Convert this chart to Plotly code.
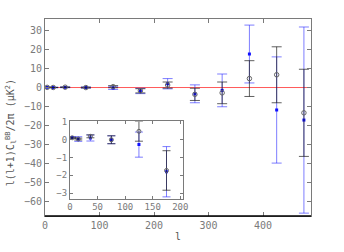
import plotly.graph_objects as go

# multipole bin centres
ells = [4, 15, 37, 75, 125, 175, 225, 275, 325, 375, 425, 475]

# black series (values and 1-sigma errors)
black_vals = [0.09, 0.02, 0.17, -0.02, 0.45, -1.73, 1.3, -3.6, -2.8, 4.7, 6.7, -13.3]
black_errs = [0.03, 0.05, 0.08, 0.22, 0.55, 1.1, 1.6, 3.2, 5.7, 9.4, 14.7, 22.9]

# blue series
blue_vals = [0.1, 0.02, 0.08, -0.02, -0.29, -1.8, 2.0, -3.3, -1.5, 17.6, -11.8, -17.1]
blue_errs = [0.03, 0.13, 0.17, 0.22, 0.7, 1.4, 2.7, 4.7, 8.6, 15.2, 27.9, 48.9]

main_xticks = [0, 100, 200, 300, 400]
main_yticks = [-60, -50, -40, -30, -20, -10, 0, 10, 20, 30]
inset_xticks = [0, 50, 100, 150, 200]
inset_yticks = [-3, -2, -1, 0, 1]
n_inset = 6

BLUE_ERR = "rgba(40,40,255,0.6)"
BLACK_ERR = "rgba(30,30,30,0.7)"
FONT = "DejaVu Sans Mono"
TICKC = "#7a7a7a"

fig = go.Figure()

def add_series(xa, ya, xs, bv, be, kv, ke, cap, msize):
    fig.add_trace(go.Scatter(
        x=xs, y=bv, mode="markers", xaxis=xa, yaxis=ya,
        marker=dict(symbol="square", size=3, color="#1010ff"),
        error_y=dict(type="data", array=be, visible=True, color=BLUE_ERR,
                     thickness=1, width=cap),
        showlegend=False))
    fig.add_trace(go.Scatter(
        x=xs, y=kv, mode="markers", xaxis=xa, yaxis=ya,
        marker=dict(symbol="circle-open", size=msize, color="#666666",
                    line=dict(width=1, color="#666666")),
        error_y=dict(type="data", array=ke, visible=True, color=BLACK_ERR,
                     thickness=1, width=cap),
        showlegend=False))

add_series("x", "y", ells, blue_vals, blue_errs, black_vals, black_errs, 5, 4.5)
add_series("x2", "y2", ells[:n_inset], blue_vals[:n_inset], blue_errs[:n_inset],
           black_vals[:n_inset], black_errs[:n_inset], 4, 4)

axis_common = dict(showgrid=False, zeroline=False, showline=True, linecolor=TICKC,
                   linewidth=1, mirror="ticks", ticks="inside", tickcolor=TICKC,
                   tickfont=dict(family=FONT, size=10, color=TICKC))

fig.update_layout(
    width=344, height=252,
    margin=dict(l=45, r=33, t=19, b=29),
    paper_bgcolor="white", plot_bgcolor="white",
    hovermode=False,
    xaxis=dict(domain=[0, 1], range=[0, 488], tickvals=main_xticks, ticklen=4,
               title=dict(text="l", font=dict(family=FONT, size=10, color="#555"), standoff=2),
               **axis_common),
    yaxis=dict(domain=[0, 1], range=[-67.5, 36], tickvals=main_yticks, ticklen=4,
               **axis_common),
    xaxis2=dict(domain=[0.094, 0.519], anchor="y2", range=[0, 205], tickvals=inset_xticks,
                ticklen=3, **{**axis_common, "tickfont": dict(family=FONT, size=9, color=TICKC)}),
    yaxis2=dict(domain=[0.088, 0.48], anchor="x2", range=[-3.3, 1.0], tickvals=inset_yticks,
                ticklen=3, **{**axis_common, "tickfont": dict(family=FONT, size=9, color=TICKC)}),
    annotations=[
        dict(text="l(l+1)C<sub>l</sub><sup>BB</sup>/2π (μK<sup>2</sup>)",
             xref="paper", yref="paper", x=0, y=0.42, xanchor="center", yanchor="middle",
             xshift=-34, textangle=-90, showarrow=False,
             font=dict(family=FONT, size=10, color="#555")),
    ],
    shapes=[
        dict(type="line", xref="x domain", yref="y", x0=0, x1=1, y0=0, y1=0,
             line=dict(color="#ff5a5a", width=1), layer="below"),
        dict(type="line", xref="x2 domain", yref="y2", x0=0, x1=1, y0=0, y1=0,
             line=dict(color="#ff5a5a", width=1), layer="below"),
        dict(type="line", xref="paper", yref="paper", x0=0, x1=1, y0=0, y1=0,
             line=dict(color="black", width=1.5), layer="above"),
    ],
)

fig.write_html("out.html", config={"displayModeBar": False},
               post_script="document.body.style.margin='0px';")
